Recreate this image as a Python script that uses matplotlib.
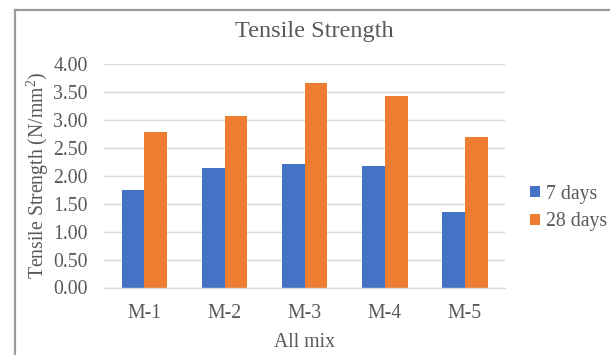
import numpy as np
import matplotlib
matplotlib.use("Agg")
import matplotlib.pyplot as plt
from matplotlib.lines import Line2D

# data
mixes = ["M-1", "M-2", "M-3", "M-4", "M-5"]
days_7 = [1.74, 2.14, 2.22, 2.17, 1.35]
days_28 = [2.79, 3.08, 3.67, 3.43, 2.70]
series_names = ["7 days", "28 days"]
y_ticks = [0.0, 0.5, 1.0, 1.5, 2.0, 2.5, 3.0, 3.5, 4.0]

blue = "#4472C4"
orange = "#ED7D31"
text_grey = "#595959"
grid_grey = "#D9D9D9"

plt.rcParams["font.family"] = ["Liberation Serif", "DejaVu Serif"]
plt.rcParams["mathtext.fontset"] = "custom"
plt.rcParams["mathtext.rm"] = "Liberation Serif"

W, H = 610, 355
fig = plt.figure(figsize=(W / 100, H / 100), dpi=100)
fig.patch.set_facecolor("white")

# plot area in pixels
left, right, top, bottom = 104.3, 505.0, 64.3, 287.5
ax = fig.add_axes([left / W, 1 - bottom / H, (right - left) / W, (bottom - top) / H])

x = np.arange(len(mixes))
bw = 0.285
ax.bar(x - bw / 2, days_7, width=bw, color=blue, label=series_names[0], zorder=3)
ax.bar(x + bw / 2, days_28, width=bw, color=orange, label=series_names[1], zorder=3)

ax.set_xlim(-0.5, len(mixes) - 0.5)
ax.set_ylim(0, 4)
ax.set_yticks(y_ticks)
ax.set_yticklabels(["%.2f" % v for v in y_ticks])
ax.set_xticks(x)
ax.set_xticklabels(mixes)
fs = 14.2
ax.tick_params(axis="y", length=0, pad=12, labelsize=fs, labelcolor=text_grey)
ax.tick_params(axis="x", length=0, pad=12, labelsize=fs, labelcolor=text_grey)

ax.grid(axis="y", color=grid_grey, linewidth=1.0, zorder=0)
for s in ["top", "right", "left"]:
    ax.spines[s].set_visible(False)
ax.spines["bottom"].set_color(grid_grey)
ax.spines["bottom"].set_linewidth(1.0)
ax.spines["bottom"].set_zorder(4)

# titles and axis labels
fig.text(314 / W, 1 - 37.3 / H, "Tensile Strength", ha="center", va="baseline",
         fontsize=17.5, color=text_grey)
fig.text(38 / W, 1 - 175 / H, "Tensile Strength (N/mm$\\mathrm{^2}$)", ha="center", va="center",
         rotation=90, fontsize=fs, color=text_grey)
fig.text((left + right) / 2 / W, 1 - 346.7 / H, "All mix", ha="center", va="baseline",
         fontsize=fs, color=text_grey)

leg = ax.legend(loc="center left", bbox_to_anchor=(530 / W, 1 - 208 / H),
                bbox_transform=fig.transFigure, frameon=False, fontsize=fs,
                handlelength=0.5, handleheight=0.5, handletextpad=0.3,
                labelspacing=0.45, borderpad=0, borderaxespad=0)
for t in leg.get_texts():
    t.set_color(text_grey)

# chart area border (left and top edges visible)
fig.add_artist(Line2D([14.5 / W, 14.5 / W], [0, 1 - 9.5 / H], transform=fig.transFigure,
                      color="#9A9A9A", linewidth=1.6))
fig.add_artist(Line2D([14.5 / W, 1], [1 - 9.5 / H, 1 - 9.5 / H], transform=fig.transFigure,
                      color="#9A9A9A", linewidth=1.6))

fig.savefig("out.png", dpi=100, facecolor="white")
